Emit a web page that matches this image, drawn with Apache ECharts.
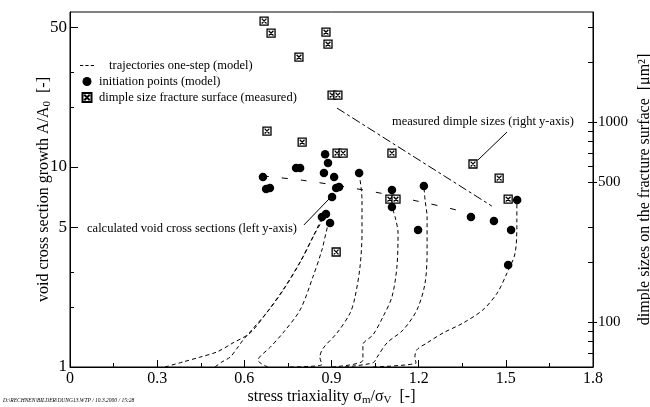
<!DOCTYPE html>
<html>
<head>
<meta charset="utf-8">
<script src="https://cdn.jsdelivr.net/npm/echarts@6/dist/echarts.min.js"></script>
<style>html,body{margin:0;padding:0;background:#fff}#chart{width:650px;height:407px}</style>
</head>
<body>
<div id="chart"></div>
<script>
var FONT = '"Liberation Serif", "Times New Roman", serif';

// axis ticks (left: A/A0, right: dimple size in um^2)
var leftTicks = [1, 2, 3, 5, 10, 20, 30, 50];
var leftLabels = [1, 5, 10, 50];
var rightTicks = [70, 80, 90, 100, 200, 300, 500, 600, 700, 800, 900, 1000, 2000, 3000];
var rightLabels = [100, 500, 1000];

// initiation points (model), left axis
var initX = [0.664, 0.675, 0.688, 0.778, 0.792, 0.878, 0.888, 0.874, 0.909, 0.916, 0.926, 0.902, 0.867,
             0.881, 0.895, 0.995, 1.108, 1.108, 1.218, 1.198, 1.380, 1.459, 1.539, 1.518, 1.508];
var initY = [8.91, 7.76, 7.85, 9.89, 9.89, 11.6, 10.47, 9.33, 8.91, 7.85, 7.94, 7.08, 5.62,
             5.82, 5.25, 9.33, 7.67, 6.31, 8.04, 4.84, 5.62, 5.37, 6.84, 4.84, 3.24];

// measured dimple sizes, right axis
var dimpleX = [0.668, 0.692, 0.788, 0.881, 0.888, 0.902, 0.922, 0.678, 0.799, 0.919, 0.940, 1.108,
               0.916, 1.101, 1.122, 1.387, 1.477, 1.508];
var dimpleY = [3200, 2786, 2113, 2818, 2455, 1365, 1365, 902, 794, 700, 700, 700,
               224, 412, 412, 617, 525, 412];

// trajectories one-step (model)
var traj1 = [[0.327, 1.0], [0.389, 1.06], [0.447, 1.12], [0.506, 1.19], [0.561, 1.32], [0.620, 1.48],
             [0.678, 1.88], [0.733, 2.43], [0.792, 3.35], [0.836, 4.47], [0.867, 5.56]];
var traj2 = [[0.499, 1.0], [0.523, 1.06], [0.551, 1.12], [0.575, 1.24], [0.595, 1.36], [0.620, 1.50],
             [0.685, 1.93], [0.740, 2.50], [0.795, 3.40], [0.840, 4.57], [0.881, 5.82]];
var traj3 = [[0.681, 1.0], [0.647, 1.08], [0.690, 1.26], [0.733, 1.48], [0.792, 1.93], [0.836, 2.82],
             [0.867, 3.85], [0.888, 5.13], [0.895, 5.25]];
var traj4 = [[0.757, 1.0], [0.867, 1.03], [0.860, 1.12], [0.871, 1.24], [0.919, 1.48], [0.964, 1.86],
             [0.981, 2.24], [0.998, 3.16], [1.005, 4.68], [1.005, 6.84], [0.995, 9.33]];
var traj5 = [[0.902, 1.0], [1.008, 1.08], [1.008, 1.29], [1.043, 1.45], [1.077, 1.78], [1.108, 2.24],
             [1.125, 3.16], [1.129, 4.68], [1.119, 5.62], [1.108, 6.31]];
var traj6 = [[0.946, 1.0], [1.043, 1.05], [1.057, 1.12], [1.091, 1.32], [1.146, 1.53], [1.194, 1.93],
             [1.222, 2.63], [1.229, 3.85], [1.229, 5.62], [1.222, 6.84], [1.218, 8.04]];
var traj7 = [[1.043, 1.0], [1.191, 1.05], [1.187, 1.12], [1.194, 1.22], [1.229, 1.32], [1.284, 1.48],
             [1.353, 1.66], [1.421, 1.93], [1.470, 2.34], [1.504, 2.95], [1.532, 3.72], [1.538, 5.43],
             [1.538, 6.84]];
var trajectories = [traj1, traj2, traj3, traj4, traj5, traj6, traj7];

// long dashed line through the end states, left axis
var oneStep = [[0.664, 9.02], [0.799, 8.59], [0.929, 8.04], [1.067, 7.41], [1.194, 6.76], [1.329, 6.10], [1.380, 5.69]];
// dash-dot trend of measured dimples, right axis
var dimpleTrend = [[0.919, 1175], [1.452, 380]];

// annotations
var noteRight = {text: 'measured dimple sizes (right y-axis)', at: [1.421, 1000], line: [[1.504, 891], [1.404, 646]]};
var noteLeft = {text: 'calculated void cross sections (left y-axis)', at: [0.420, 4.9], line: [[0.805, 5.13], [0.898, 7.08]]};

var SQUARE_X = 'path://M0,0L10,0L10,10L0,10Z M2,2L8,8 M8,2L2,8';
var DASH_ICON = 'path://M0,4H3V5H0Z M5,4H8V5H5Z M10,4H13V5H10Z';

function tickSeries(ticks, labels, yIndex, xPos, side) {
  return {
    type: 'custom', yAxisIndex: yIndex, silent: true, clip: false, z: 5,
    data: ticks.map(function (v) { return [xPos, v]; }),
    encode: {x: 0, y: 1},
    renderItem: function (params, api) {
      var v = api.value(1);
      var p = api.coord([xPos, v]);
      var major = labels.indexOf(v) >= 0;
      var y = Math.round(p[1]) + 0.5;
      var x0, x1, kids = [];
      if (side === 'left') { x0 = p[0]; x1 = p[0] + (major ? 8 : 4); }
      else { x0 = p[0] - 5; x1 = p[0] + (major ? 4 : 0); }
      kids.push({type: 'line', shape: {x1: x0, y1: y, x2: x1, y2: y}, style: {stroke: '#000', lineWidth: 1}});
      if (major) {
        kids.push({
          type: 'text', x: side === 'left' ? p[0] - 3 : p[0] + 5, y: p[1],
          style: {text: String(v), align: side === 'left' ? 'right' : 'left', verticalAlign: 'middle',
                  fontSize: side === 'left' ? 17 : 15, fontFamily: FONT, fill: '#000'}
        });
      }
      return {type: 'group', children: kids};
    }
  };
}

function noteSeries(note, yIndex) {
  return [{
    type: 'line', yAxisIndex: yIndex, data: note.line, symbol: 'none', silent: true,
    lineStyle: {color: '#000', width: 1}
  }, {
    type: 'custom', yAxisIndex: yIndex, silent: true, clip: false, z: 6,
    data: [note.at], encode: {x: 0, y: 1},
    renderItem: function (params, api) {
      var p = api.coord([api.value(0), api.value(1)]);
      return {type: 'text', x: p[0], y: p[1],
              style: {text: note.text, align: 'center', verticalAlign: 'middle', fontSize: 12.5, fontFamily: FONT, fill: '#000'}};
    }
  }];
}

var series = [];
trajectories.forEach(function (t) {
  series.push({
    name: 'trajectories one-step (model)', type: 'line', data: t, symbol: 'none', smooth: 0.3,
    lineStyle: {color: '#000', width: 1, type: [4, 3]}, itemStyle: {color: '#000'}
  });
});
series.push({
  name: 'one-step end', type: 'line', data: oneStep, symbol: 'none', smooth: 0.3,
  lineStyle: {color: '#000', width: 1, type: [6, 13]}
});
series.push({
  name: 'dimple trend', type: 'line', yAxisIndex: 1, data: dimpleTrend, symbol: 'none',
  lineStyle: {color: '#000', width: 1, type: [9, 3, 3, 3]}
});
series.push({
  name: 'initiation points (model)', type: 'scatter', symbol: 'circle', symbolSize: 8.5, z: 4,
  data: initX.map(function (x, i) { return [x, initY[i]]; }),
  itemStyle: {color: '#000', opacity: 1}
});
series.push({
  name: 'dimple size fracture surface (measured)', type: 'scatter', yAxisIndex: 1, symbol: SQUARE_X, symbolSize: 8, z: 4,
  data: dimpleX.map(function (x, i) { return [x, dimpleY[i]]; }),
  itemStyle: {color: '#fff', borderColor: '#000', borderWidth: 1.3, opacity: 1}
});
series = series.concat(noteSeries(noteRight, 1), noteSeries(noteLeft, 0));
series.push(tickSeries(leftTicks, leftLabels, 0, 0, 'left'));
series.push(tickSeries(rightTicks, rightLabels, 1, 1.8, 'right'));

var nameRich = {
  t: {fontSize: 16, fontFamily: FONT, color: '#000'},
  s: {fontSize: 11, fontFamily: FONT, color: '#000', padding: [8, 0, 0, 0]}
};

var option = {
  animation: false,
  backgroundColor: '#fff',
  grid: {left: 70, right: 57, top: 12, bottom: 40, show: true, borderColor: '#000', borderWidth: 1,
         containLabel: false, outerBoundsMode: 'none'},
  legend: {
    orient: 'vertical', left: 75, top: 54, itemWidth: 14, itemHeight: 9, itemGap: 3,
    textStyle: {fontSize: 12.5, fontFamily: FONT, color: '#000'},
    data: [
      {name: 'trajectories one-step (model)', icon: DASH_ICON, itemStyle: {color: '#000', borderWidth: 0},
       textStyle: {padding: [0, 0, 0, 10]}},
      {name: 'initiation points (model)'},
      {name: 'dimple size fracture surface (measured)'}
    ]
  },
  graphic: [{
    type: 'text', left: 3, bottom: 3,
    style: {text: 'D:\\RECHNEN\\BILDER\\DUNG13.WTP / 10.3.2000 / 15:28', fontSize: 5.5, fontStyle: 'italic', fontFamily: FONT, fill: '#000'}
  }],
  xAxis: {
    type: 'value', min: 0, max: 1.8, interval: 0.3,
    name: '{t|stress triaxiality σ}{s|m}{t|/σ}{s|V}{t|  [-]}', nameLocation: 'middle', nameGap: 20,
    nameMoveOverlap: false,
    nameTextStyle: {rich: nameRich},
    axisLine: {lineStyle: {color: '#000', width: 1}},
    axisTick: {inside: true, length: 7, lineStyle: {color: '#000'}},
    minorTick: {show: true, splitNumber: 2, length: 4, lineStyle: {color: '#000'}},
    axisLabel: {margin: 4, fontSize: 16, fontFamily: FONT, color: '#000'},
    splitLine: {show: false}
  },
  yAxis: [{
    type: 'log', min: 1, max: 59.6, position: 'left',
    name: '{t|void cross section growth A/A}{s|0}{t|  [-]}', nameLocation: 'middle', nameGap: 17,
    nameMoveOverlap: false,
    nameTextStyle: {rich: nameRich},
    axisLine: {show: true, lineStyle: {color: '#000'}},
    axisTick: {show: false}, axisLabel: {show: false}, splitLine: {show: false}
  }, {
    type: 'log', min: 59.6, max: 3552, position: 'right',
    name: '{t|dimple sizes on the fracture surface  [μm²]}', nameLocation: 'middle', nameGap: 44, nameRotate: 90,
    nameMoveOverlap: false,
    nameTextStyle: {rich: nameRich},
    axisLine: {show: true, lineStyle: {color: '#000'}},
    axisTick: {show: false}, axisLabel: {show: false}, splitLine: {show: false}
  }],
  series: series
};

var chart = echarts.init(document.getElementById('chart'));
chart.setOption(option);
</script>
</body>
</html>
